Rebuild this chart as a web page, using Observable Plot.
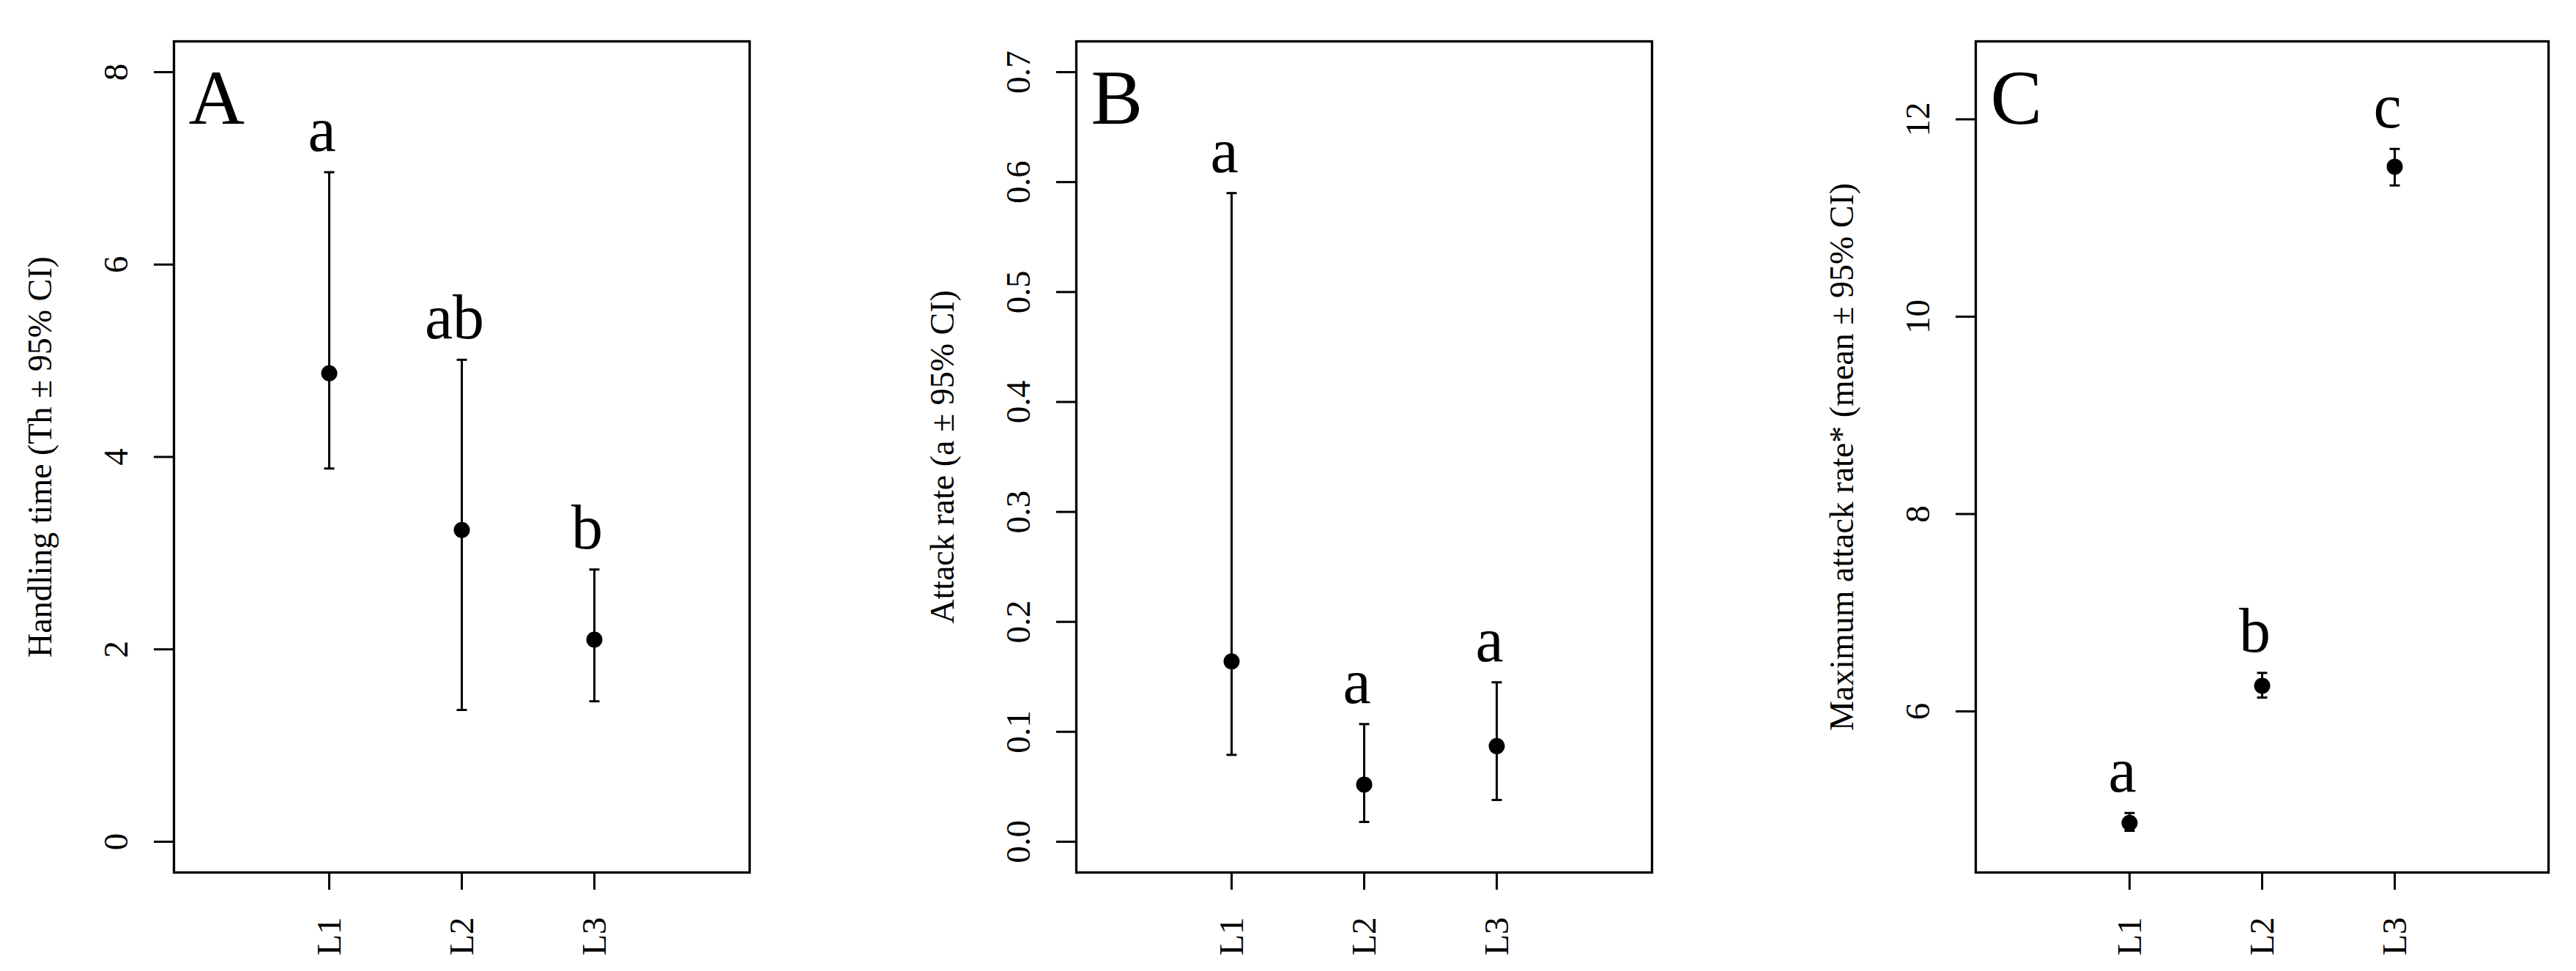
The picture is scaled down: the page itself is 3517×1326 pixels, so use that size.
<!DOCTYPE html>
<html>
<head>
<meta charset="utf-8">
<script src="https://cdn.jsdelivr.net/npm/d3@7"></script>
<script src="https://cdn.jsdelivr.net/npm/@observablehq/plot@0.6"></script>
<style>
html, body { margin: 0; padding: 0; background: #fff; }
#wrap { position: relative; width: 3517px; height: 1326px; overflow: hidden; background: #fff; }
#wrap > div { position: absolute; top: 0; }
svg { display: block; }
</style>
</head>
<body>
<div id="wrap"><div id="pA"></div><div id="pB"></div><div id="pC"></div></div>
<script>
// ---- data ----
const categories = ["L1", "L2", "L3"];

const handlingMean   = [4.87, 3.24, 2.10];
const handlingLower  = [3.88, 1.37, 1.46];
const handlingUpper  = [6.96, 5.01, 2.83];
const handlingLetters = ["a", "ab", "b"];
const handlingTicks  = [0, 2, 4, 6, 8];

const attackMean   = [0.164, 0.052, 0.087];
const attackLower  = [0.079, 0.018, 0.038];
const attackUpper  = [0.590, 0.107, 0.145];
const attackLetters = ["a", "a", "a"];
const attackTicks  = [0, 0.1, 0.2, 0.3, 0.4, 0.5, 0.6, 0.7];

const maxMean   = [4.87, 6.26, 11.52];
const maxLower  = [4.79, 6.14, 11.33];
const maxUpper  = [4.97, 6.39, 11.70];
const maxLetters = ["a", "b", "c"];
const maxTicks  = [6, 8, 10, 12];

const FONT = "'Liberation Serif', 'Times New Roman', 'DejaVu Serif', serif";

const cap = {
  draw(ctx, size) {
    const w = Math.sqrt(size / Math.PI);
    ctx.moveTo(-w, 0);
    ctx.lineTo(w, 0);
  }
};

function panel({mean, lower, upper, letters, domain, ticks, format, title, tag, width, marginLeft, marginRight}) {
  const data = categories.map((c, i) => ({cat: c, mean: mean[i], lower: lower[i], upper: upper[i], letter: letters[i]}));
  return Plot.plot({
    width,
    height: 1326,
    marginLeft,
    marginRight,
    marginTop: 56,
    marginBottom: 135,
    style: {fontFamily: FONT, background: "white", color: "black"},
    x: {type: "point", domain: categories, padding: 1.16},
    y: {domain},
    marks: [
      Plot.axisY(ticks, {tickSize: 27, tickPadding: 37, tickRotate: -90, tickFormat: format, fontSize: 47, strokeWidth: 3, label: null}),
      Plot.axisX(categories, {tickSize: 24, tickPadding: 37, tickRotate: -90, fontSize: 47, strokeWidth: 3, label: null}),
      Plot.frame({stroke: "black", strokeWidth: 3.3}),
      Plot.ruleX(data, {x: "cat", y1: "lower", y2: "upper", stroke: "black", strokeWidth: 3}),
      Plot.dot(data, {x: "cat", y: "lower", symbol: cap, r: 7, stroke: "black", fill: "none", strokeWidth: 3}),
      Plot.dot(data, {x: "cat", y: "upper", symbol: cap, r: 7, stroke: "black", fill: "none", strokeWidth: 3}),
      Plot.dot(data, {x: "cat", y: "mean", r: 11, fill: "black", stroke: "none"}),
      Plot.text(data, {x: "cat", y: "upper", text: "letter", dx: -10, dy: -29, lineAnchor: "bottom", textAnchor: "middle", fontSize: 86, fill: "black"}),
      Plot.text([tag], {frameAnchor: "top-left", text: d => d, dx: 20, dy: 112, lineAnchor: "bottom", textAnchor: "start", fontSize: 106, fill: "black"}),
      Plot.text([title], {frameAnchor: "left", text: d => d, dx: -168, rotate: -90, lineAnchor: "bottom", textAnchor: "middle", fontSize: 46, fill: "black"})
    ]
  });
}

const A = panel({
  mean: handlingMean, lower: handlingLower, upper: handlingUpper, letters: handlingLetters,
  domain: [-0.32, 8.32], ticks: handlingTicks, format: d3.format("d"),
  title: "Handling time (Th ± 95% CI)", tag: "A",
  width: 1172, marginLeft: 237, marginRight: 149
});
const B = panel({
  mean: attackMean, lower: attackLower, upper: attackUpper, letters: attackLetters,
  domain: [-0.028, 0.728], ticks: attackTicks, format: d3.format(".1f"),
  title: "Attack rate (a ± 95% CI)", tag: "B",
  width: 1172, marginLeft: 297, marginRight: 89
});
const C = panel({
  mean: maxMean, lower: maxLower, upper: maxUpper, letters: maxLetters,
  domain: [4.367, 12.79], ticks: maxTicks, format: d3.format("d"),
  title: "Maximum attack rate* (mean ± 95% CI)", tag: "C",
  width: 1173, marginLeft: 353, marginRight: 38
});

const pA = document.getElementById("pA"); pA.style.left = "0px"; pA.appendChild(A);
const pB = document.getElementById("pB"); pB.style.left = "1172px"; pB.appendChild(B);
const pC = document.getElementById("pC"); pC.style.left = "2344px"; pC.appendChild(C);
</script>
</body>
</html>
